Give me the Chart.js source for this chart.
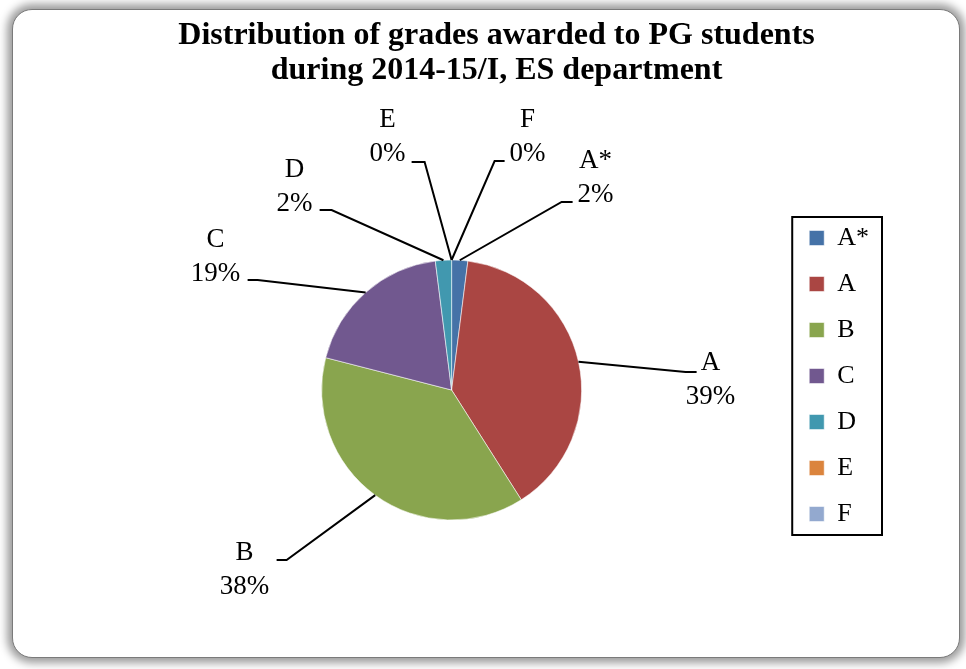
<!DOCTYPE html>
<html>
<head>
<meta charset="utf-8">
<script src="https://cdn.jsdelivr.net/npm/chart.js@4/dist/chart.umd.min.js"></script>
<style>
  html, body { margin: 0; padding: 0; background: #fff; }
  body { width: 966px; height: 669px; position: relative; overflow: hidden; }
  .frame {
    position: absolute; left: 12px; top: 9px; width: 948px; height: 649px;
    background: #fff; border-radius: 20px;
    border: 1px solid #7a7a7a;
    box-shadow: 0 0 8px 5px #9c9c9c;
    box-sizing: border-box;
  }
  #chart { position: absolute; left: 0; top: 0; }
</style>
</head>
<body>
<div class="frame"></div>
<canvas id="chart" width="966" height="669"></canvas>
<script>
const grades = ['A*', 'A', 'B', 'C', 'D', 'E', 'F'];
const shares = [2, 39, 38, 19, 2, 0, 0];
const sliceColors = ['#4572A7', '#AA4643', '#89A54E', '#71588F', '#4198AF', '#DB843D', '#93A9CF'];

// where each leader line bends and where its label sits, relative to the pie centre
const labelSpots = [
  { ex: 110, ey: -188, hx: 121, tx: 144, ty: -229 },
  { ex: 234, ey: -18, hx: 245, tx: 259, ty: -27 },
  { ex: -165, ey: 170, hx: -175, tx: -207, ty: 163 },
  { ex: -194, ey: -110, hx: -204, tx: -236, ty: -150 },
  { ex: -120, ey: -180, hx: -132, tx: -157, ty: -220 },
  { ex: -27, ey: -228, hx: -40, tx: -64, ty: -270 },
  { ex: 43, ey: -229, hx: 53, tx: 76, ty: -270 }
];

Chart.defaults.color = '#000';
Chart.defaults.font.family = '"Liberation Serif", "Times New Roman", serif';

const leaderLabels = {
  id: 'leaderLabels',
  afterDatasetsDraw(chart, args, opts) {
    const ctx = chart.ctx;
    const vals = chart.data.datasets[0].data;
    const total = vals.reduce((a, b) => a + b, 0);
    chart.getDatasetMeta(0).data.forEach((arc, i) => {
      const s = opts.spots[i];
      const p = arc.getProps(['x', 'y', 'startAngle', 'endAngle', 'outerRadius'], true);
      const mid = (p.startAngle + p.endAngle) / 2;
      const ax = p.x + Math.cos(mid) * p.outerRadius;
      const ay = p.y + Math.sin(mid) * p.outerRadius;
      ctx.save();
      ctx.strokeStyle = '#000';
      ctx.lineWidth = 2;
      ctx.beginPath();
      ctx.moveTo(ax, ay);
      ctx.lineTo(p.x + s.ex, p.y + s.ey);
      ctx.lineTo(p.x + s.hx, p.y + s.ey);
      ctx.stroke();
      ctx.fillStyle = '#000';
      ctx.font = '27px "Liberation Serif", serif';
      ctx.textAlign = 'center';
      ctx.textBaseline = 'middle';
      ctx.fillText(chart.data.labels[i], p.x + s.tx, p.y + s.ty);
      ctx.fillText(Math.round(vals[i] / total * 100) + '%', p.x + s.tx, p.y + s.ty + 34);
      ctx.restore();
    });
  }
};

const legendFrame = {
  id: 'legendFrame',
  afterDraw(chart) {
    const boxes = chart.legend.legendHitBoxes;
    if (!boxes || !boxes.length) return;
    const left = Math.min(...boxes.map(b => b.left));
    const right = Math.max(...boxes.map(b => b.left + b.width));
    const top = Math.min(...boxes.map(b => b.top));
    const bottom = Math.max(...boxes.map(b => b.top + b.height));
    const ctx = chart.ctx;
    ctx.save();
    ctx.strokeStyle = '#000';
    ctx.lineWidth = 2;
    ctx.strokeRect(left - 17, top - 8, right - left + 30, bottom - top + 16);
    ctx.restore();
  }
};

new Chart(document.getElementById('chart'), {
  type: 'pie',
  data: {
    labels: grades,
    datasets: [{
      data: shares,
      backgroundColor: sliceColors,
      borderColor: 'rgba(255,255,255,0.55)',
      borderWidth: 1,
      radius: 130
    }]
  },
  options: {
    responsive: false,
    animation: false,
    layout: { padding: { top: 18, left: 114, right: 87, bottom: 9 } },
    plugins: {
      title: {
        display: true,
        text: ['Distribution of grades awarded to PG students', 'during 2014-15/I, ES department'],
        font: { size: 32, weight: 'bold', lineHeight: 1.1 },
        color: '#000',
        padding: { top: 0, bottom: 31.6 }
      },
      legend: {
        position: 'right',
        align: 'start',
        fullSize: false,
        title: { display: true, text: ' ', font: { size: 10 }, padding: { top: 0, bottom: 73 } },
        labels: { boxWidth: 15, boxHeight: 15, padding: 20, font: { size: 26 }, color: '#000' }
      },
      tooltip: { enabled: false },
      leaderLabels: { spots: labelSpots }
    }
  },
  plugins: [leaderLabels, legendFrame]
});
</script>
</body>
</html>
